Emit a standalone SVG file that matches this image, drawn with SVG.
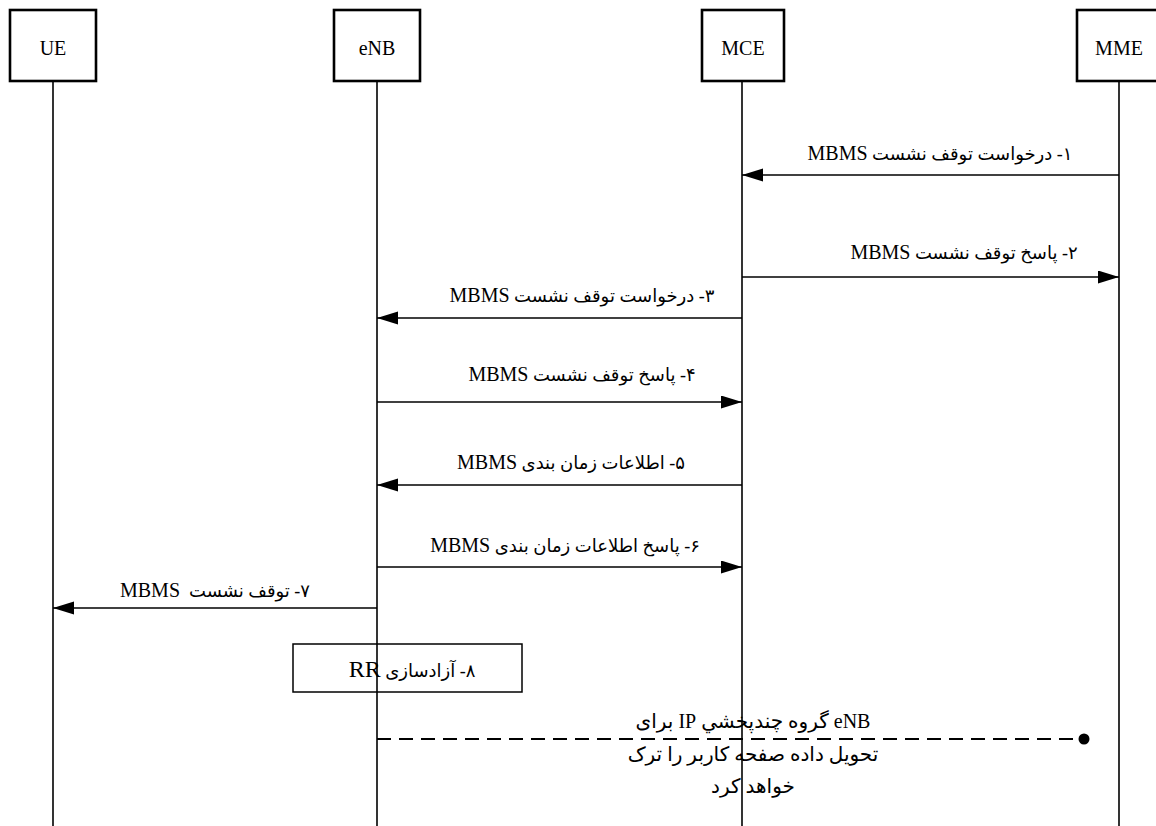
<svg xmlns="http://www.w3.org/2000/svg" width="1156" height="826" viewBox="0 0 1156 826">
  <style>
    .box { fill: #fff; stroke: #000; stroke-width: 2.6; }
    .life { stroke: #000; stroke-width: 1.6; fill: none; }
    .msg { stroke: #000; stroke-width: 1.6; fill: none; }
    .dash { stroke: #000; stroke-width: 1.8; fill: none; stroke-dasharray: 14 8; }
    .note { fill: #fff; stroke: #000; stroke-width: 1.5; }
    .lbl { font-family: "Liberation Serif", "DejaVu Sans", serif; font-size: 20px; fill: #000; text-anchor: middle; }
    .txt { font-family: "Liberation Serif", "DejaVu Sans", serif; font-size: 18px; fill: #000; text-anchor: middle; }
    .lat { font-family: "Liberation Serif", serif; font-size: 20px; }
    .rr { font-family: "Liberation Serif", serif; font-size: 24px; }
    .big { font-size: 20px; }
  </style>
  <defs>
    <marker id="arrow" markerUnits="userSpaceOnUse" markerWidth="22" markerHeight="14" refX="21" refY="6.5" orient="auto">
      <path d="M0,0 L21,6.5 L0,13 Z" fill="#000"/>
    </marker>
  </defs>
  <rect width="1156" height="826" fill="#fff"/>

  <!-- lifelines -->
  <g id="lifelines">
    <line class="life" x1="53" y1="81" x2="53" y2="826"/>
    <line class="life" x1="377" y1="81" x2="377" y2="826"/>
    <line class="life" x1="742" y1="81" x2="742" y2="826"/>
    <line class="life" x1="1119" y1="81" x2="1119" y2="826"/>
  </g>

  <!-- participants -->
  <g id="ue">
    <rect class="box" x="10" y="10" width="86" height="71"/>
    <text class="lbl" x="53" y="55">UE</text>
  </g>
  <g id="enb">
    <rect class="box" x="334" y="10" width="86" height="71"/>
    <text class="lbl" x="377" y="55">eNB</text>
  </g>
  <g id="mce">
    <rect class="box" x="702" y="10" width="82" height="71"/>
    <text class="lbl" x="743" y="55">MCE</text>
  </g>
  <g id="mme">
    <rect class="box" x="1077" y="10" width="86" height="71"/>
    <text class="lbl" x="1119" y="55">MME</text>
  </g>

  <!-- messages -->
  <g id="connectors">
    <line class="msg" x1="1119" y1="175" x2="742" y2="175" marker-end="url(#arrow)"/>
    <line class="msg" x1="742" y1="277" x2="1119" y2="277" marker-end="url(#arrow)"/>
    <line class="msg" x1="742" y1="318" x2="377" y2="318" marker-end="url(#arrow)"/>
    <line class="msg" x1="377" y1="402" x2="742" y2="402" marker-end="url(#arrow)"/>
    <line class="msg" x1="742" y1="485" x2="377" y2="485" marker-end="url(#arrow)"/>
    <line class="msg" x1="377" y1="567" x2="742" y2="567" marker-end="url(#arrow)"/>
    <line class="msg" x1="377" y1="608" x2="53" y2="608" marker-end="url(#arrow)"/>
    <line class="dash" x1="377" y1="739" x2="1084" y2="739"/>
    <circle cx="1084" cy="739" r="5.5" fill="#000"/>
  </g>

  <g id="labels">
    <text class="txt" x="940" y="160" direction="rtl">۱- درخواست توقف نشست <tspan class="lat">MBMS</tspan></text>
    <text class="txt" x="964" y="259" direction="rtl">۲- پاسخ توقف نشست <tspan class="lat">MBMS</tspan></text>
    <text class="txt" x="582" y="302" direction="rtl">۳- درخواست توقف نشست <tspan class="lat">MBMS</tspan></text>
    <text class="txt" x="582" y="381" direction="rtl">۴- پاسخ توقف نشست <tspan class="lat">MBMS</tspan></text>
    <text class="txt" x="571" y="469" direction="rtl">۵- اطلاعات زمان بندی <tspan class="lat">MBMS</tspan></text>
    <text class="txt" x="565" y="552" direction="rtl">۶- پاسخ اطلاعات زمان بندی <tspan class="lat">MBMS</tspan></text>
    <text class="txt" x="215" y="597" direction="rtl" xml:space="preserve">۷- توقف نشست  <tspan class="lat">MBMS</tspan></text>
  </g>

  <!-- local action on eNB -->
  <g id="rr-release">
    <rect class="note" x="293" y="644" width="229" height="48"/>
    <line class="life" x1="377" y1="644" x2="377" y2="692"/>
    <text class="txt" x="412" y="677" direction="rtl">۸- آزادسازی <tspan class="rr">RR</tspan></text>
  </g>

  <g id="leave-note">
    <text class="txt big" x="753" y="728" direction="rtl">eNB گروه چندپخشي IP برای</text>
    <text class="txt big" x="753" y="761" direction="rtl">تحویل داده صفحه کاربر را ترک</text>
    <text class="txt big" x="753" y="793" direction="rtl">خواهد کرد</text>
  </g>
</svg>
